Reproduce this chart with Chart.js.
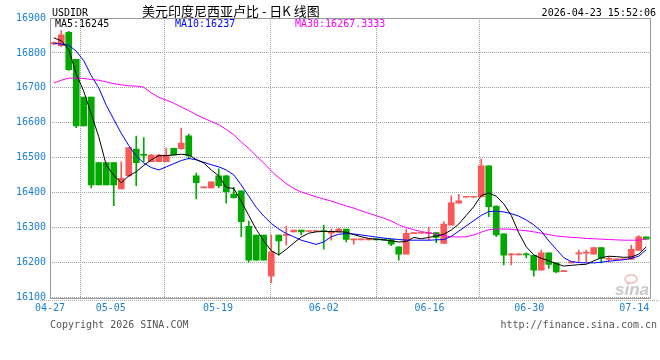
<!DOCTYPE html>
<html><head><meta charset="utf-8">
<script src="https://cdn.jsdelivr.net/npm/chart.js@4/dist/chart.umd.min.js"></script>
<style>html,body{margin:0;padding:0;background:#fff}canvas{display:block}</style>
</head><body>
<canvas id="c" width="660" height="360"></canvas>
<script>
const symbol = 'USDIDR';
const title = '美元印度尼西亚卢比 - 日K 线图';
const stamp = '2026-04-23 15:52:06';
const copyright = 'Copyright 2026 SINA.COM';
const site = 'http://finance.sina.com.cn';

const open  = [16826,16821,16859,16782,16674,16674,16486,16486,16486,16411,16448,16525,16509,16489,16489,16489,16527,16526,16563,16448,
               16414,16414,16448,16448,16396,16405,16304,16279,16279,16161,16279,16278,16288,16293,16289,16289,16291,16284,16288,16296,
               16265,16265,16265,16267,16267,16266,16245,16224,16283,16284,16283,16286,16255,16307,16370,16387,16387,16388,16477,16362,
               16282,16222,16222,16225,16221,16178,16228,16199,16174,16199,16225,16227,16224,16243,16209,16208,16208,16209,16235,16274];
const high  = [16832,16864,16862,16782,16674,16674,16486,16486,16486,16488,16530,16562,16558,16510,16510,16528,16528,16585,16568,16456,
               16416,16431,16468,16450,16415,16405,16319,16279,16279,16279,16279,16304,16293,16293,16291,16291,16307,16296,16298,16296,
               16267,16267,16267,16267,16267,16266,16245,16296,16285,16286,16301,16286,16317,16391,16395,16389,16389,16496,16477,16362,
               16282,16226,16224,16228,16221,16236,16228,16199,16176,16201,16236,16236,16243,16243,16217,16210,16210,16250,16277,16274];
const low   = [16824,16818,16750,16586,16591,16414,16422,16422,16363,16411,16446,16420,16489,16489,16489,16489,16508,16524,16497,16382,
               16414,16414,16414,16370,16384,16274,16202,16207,16207,16142,16221,16250,16288,16279,16289,16289,16238,16264,16288,16259,
               16253,16265,16265,16265,16264,16248,16207,16224,16283,16284,16264,16257,16255,16307,16370,16387,16387,16388,16331,16274,
               16193,16193,16222,16213,16161,16178,16183,16170,16174,16199,16202,16202,16224,16199,16202,16208,16208,16209,16235,16267];
const close = [16830,16852,16752,16591,16591,16422,16422,16422,16422,16441,16529,16486,16507,16508,16508,16508,16508,16542,16505,16429,
               16416,16431,16420,16403,16386,16317,16207,16207,16207,16231,16262,16280,16293,16288,16291,16291,16289,16286,16296,16266,
               16267,16267,16267,16265,16264,16253,16224,16284,16285,16286,16285,16272,16310,16371,16377,16389,16389,16477,16360,16279,
               16221,16224,16224,16222,16178,16228,16195,16173,16176,16201,16227,16229,16243,16212,16211,16210,16210,16238,16274,16267];

const ma5  = [16843,16835,16810,16740,16690,16625,16560,16479,16450,16428,16448,16460,16478,16494,16506,16506,16508,16510,16508,16495,
              16485,16465,16448,16415,16412,16375,16335,16295,16262,16234,16222,16238,16256,16273,16284,16288,16289,16289,16288,16287,
              16280,16274,16269,16267,16265,16262,16259,16260,16272,16268,16272,16276,16281,16293,16310,16335,16360,16392,16399,16390,
              16368,16335,16285,16245,16222,16212,16205,16197,16190,16192,16194,16195,16205,16214,16218,16217,16215,16216,16224,16245];
const ma10 = [16828,16825,16822,16805,16778,16735,16700,16650,16610,16570,16535,16505,16485,16472,16465,16474,16483,16492,16498,16494,
              16487,16480,16474,16465,16451,16422,16390,16358,16333,16312,16296,16283,16274,16264,16258,16252,16259,16274,16281,16283,
              16282,16279,16276,16273,16270,16268,16266,16264,16264,16264,16264,16265,16266,16275,16290,16305,16320,16335,16346,16347,
              16345,16340,16333,16322,16308,16290,16262,16238,16214,16203,16200,16199,16199,16201,16204,16206,16208,16212,16218,16237];
const ma30 = [16714,16722,16728,16728,16727,16724,16722,16717,16712,16709,16706,16705,16702,16686,16673,16665,16656,16645,16635,16623,
              16613,16604,16595,16581,16566,16545,16527,16505,16485,16462,16443,16426,16412,16402,16395,16388,16382,16376,16369,16362,
              16356,16348,16341,16334,16327,16319,16308,16300,16294,16289,16285,16281,16277,16274,16273,16274,16279,16287,16294,16296,
              16296,16295,16293,16291,16288,16284,16280,16276,16274,16272,16271,16269,16268,16267,16266,16265,16264,16264,16264,16267.3333];

const tickLabels = ['04-27','05-05','05-19','06-02','06-16','06-30','07-14'];
const tickIndex  = [-0.5, 7.6, 21.9, 36, 50.1, 63.4, 77.4];

const UP = '#fa5858', DOWN = '#00a800';
const MONO = '"DejaVu Sans Mono", monospace';
const candleColor = i => close[i] >= open[i] ? UP : DOWN;

const wicks  = open.map((_, i) => ({x: i, y: [low[i], high[i]]}));
const bodies = open.map((_, i) => ({x: i, y: [open[i], close[i]]}));
const line = arr => arr.map((v, i) => ({x: i, y: v}));

const framePlugin = {
  id: 'frame',
  beforeDraw(chart) {
    const c = chart.ctx;
    c.save(); c.fillStyle = '#fff'; c.fillRect(0, 0, chart.width, chart.height); c.restore();
  },
  afterDatasetsDraw(chart) {
    const c = chart.ctx, a = chart.chartArea;
    c.save();
    c.strokeStyle = '#999'; c.lineWidth = 1;
    c.beginPath();
    c.moveTo(Math.round(a.left) + 0.5, Math.round(a.top) + 0.5);
    c.lineTo(Math.round(a.left) + 0.5, Math.round(a.bottom) + 0.5);
    c.lineTo(Math.round(a.right) + 0.5, Math.round(a.bottom) + 0.5);
    c.lineTo(Math.round(a.right) + 0.5, Math.round(a.top) + 0.5);
    c.closePath();
    c.stroke();
    c.setLineDash([1, 1]);
    c.strokeStyle = '#aaa';
    c.beginPath();
    c.moveTo(40, Math.round(a.bottom) + 2.5);
    c.lineTo(660, Math.round(a.bottom) + 2.5);
    c.stroke();
    c.restore();
  },
  afterDraw(chart) {
    const c = chart.ctx;
    c.save();
    c.textBaseline = 'alphabetic';
    c.fillStyle = '#000';
    c.font = '10px ' + MONO;
    c.fillText(symbol, 52, 16);
    c.font = '13px "Noto Sans CJK SC", sans-serif';
    c.fillText(title, 142, 16);
    c.font = '10px ' + MONO;
    c.textAlign = 'right';
    c.fillText(stamp, 656, 16);
    c.textAlign = 'left';
    c.fillStyle = '#000';
    c.fillText('MA5:' + ma5[ma5.length - 1], 55, 27);
    c.fillStyle = '#0000ff';
    c.fillText('MA10:' + ma10[ma10.length - 1], 175, 27);
    c.fillStyle = '#ff00ff';
    c.fillText('MA30:' + ma30[ma30.length - 1], 295, 27);
    c.fillStyle = '#555';
    c.fillText(copyright, 50, 328);
    c.textAlign = 'right';
    c.fillText(site, 657, 328);
    c.textAlign = 'left';
    c.fillStyle = 'rgba(190,190,190,0.85)';
    c.font = 'italic bold 17px "Liberation Sans", sans-serif';
    c.fillText('sina', 615, 295);
    c.strokeStyle = 'rgba(240,170,170,0.8)';
    c.lineWidth = 1.5;
    c.beginPath(); c.ellipse(631, 279, 6, 4, 0, 0, Math.PI * 2); c.stroke();
    c.restore();
  }
};

new Chart(document.getElementById('c'), {
  type: 'bar',
  data: {
    datasets: [
      {type: 'line', label: 'MA5', data: line(ma5), borderColor: '#000', borderWidth: 1, pointRadius: 0, tension: 0, order: 0},
      {type: 'line', label: 'MA10', data: line(ma10), borderColor: '#0000ff', borderWidth: 1, pointRadius: 0, tension: 0, order: 0},
      {type: 'line', label: 'MA30', data: line(ma30), borderColor: '#ff00ff', borderWidth: 1, pointRadius: 0, tension: 0, order: 0},
      {label: 'wick', data: wicks, barThickness: 1, minBarLength: 1, grouped: false, order: 2,
       backgroundColor: ctx => candleColor(ctx.dataIndex), borderWidth: 0},
      {label: 'body', data: bodies, barThickness: 6, minBarLength: 1, grouped: false, order: 1,
       backgroundColor: ctx => candleColor(ctx.dataIndex), borderWidth: 0}
    ]
  },
  options: {
    responsive: false,
    animation: false,
    devicePixelRatio: 1,
    layout: {padding: {top: 18, right: 10, bottom: 0, left: 0}},
    plugins: {legend: {display: false}, tooltip: {enabled: false}},
    scales: {
      x: {
        type: 'linear', min: -0.5, max: 79.5, offset: false,
        afterBuildTicks: s => { s.ticks = tickIndex.map(v => ({value: v})); },
        afterFit: s => { s.height = 62.5; },
        ticks: {autoSkip: false, maxRotation: 0, padding: 5, color: '#1b7fd0',
                font: {family: MONO, size: 10},
                callback: (v, i) => tickLabels[i]},
        grid: {drawTicks: false, color: ctx => (ctx.index === 0 || ctx.index === tickIndex.length - 1) ? 'rgba(0,0,0,0)' : '#a0a0a0'},
        border: {display: false, dash: [1, 1]}
      },
      y: {
        min: 16100, max: 16900,
        afterFit: s => { s.width = 50; },
        ticks: {stepSize: 100, padding: 4, color: '#1b7fd0', font: {family: MONO, size: 10},
                callback: v => String(v)},
        grid: {drawTicks: false, color: '#a0a0a0'},
        border: {display: false, dash: [1, 1]}
      }
    }
  },
  plugins: [framePlugin]
});
</script>
</body></html>
